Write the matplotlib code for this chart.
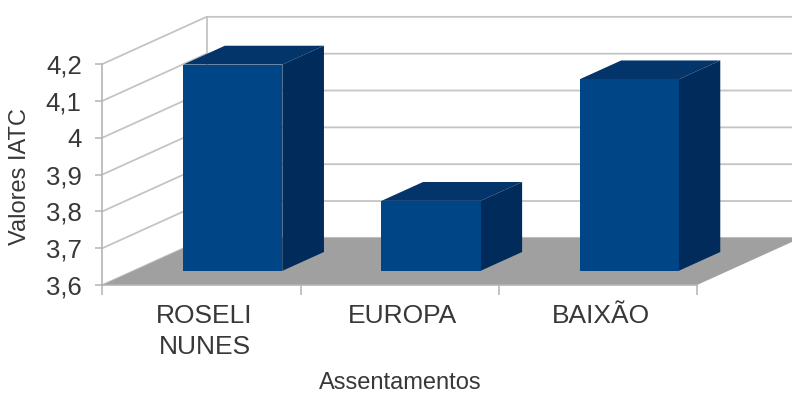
import matplotlib.pyplot as plt

from matplotlib.patches import Polygon
from matplotlib.transforms import ScaledTranslation

plt.rcParams['font.family'] = ['Liberation Sans', 'DejaVu Sans']

categories = ['ROSELI\nNUNES', 'EUROPA', 'BAIXÃO']
iatc_values = [4.16, 3.79, 4.12]
y_ticks = [3.6, 3.7, 3.8, 3.9, 4.0, 4.1, 4.2]
y_tick_labels = ['3,6', '3,7', '3,8', '3,9', '4', '4,1', '4,2']

WIDTH = 792
HEIGHT = 393
Y_MIN = 3.6
Y_MAX = 4.2

# fake 3D: how far the back wall sits from the front plane, in data units
DEPTH_X = 0.525
DEPTH_Y = 0.128
BAR_WIDTH = 0.5
BAR_DEPTH_START = 0.3
BAR_DEPTH_END = 0.7

FRONT = '#004586'
TOP = '#03346a'
SIDE = '#012b5a'
FLOOR = '#a0a0a0'
GRID = '#c4c4c4'
TEXT = '#383838'


def project(x, y, depth):
  return x + depth * DEPTH_X, y + depth * DEPTH_Y


def face(ax, points, color, zorder):
  ax.add_patch(Polygon(points, closed=True, facecolor=color, edgecolor='none', clip_on=False, zorder=zorder))


def draw_walls(ax, x_max):
  for tick in y_ticks:
    xs, ys = zip(project(0, tick, 0), project(0, tick, 1), project(x_max, tick, 1))
    ax.plot(xs, ys, color=GRID, lw=1.3, clip_on=False, zorder=1)

  xs, ys = zip(project(0, Y_MIN, 1), project(0, Y_MAX, 1))
  ax.plot(xs, ys, color=GRID, lw=1.3, clip_on=False, zorder=1)

  floor = [
    project(0, Y_MIN, 0),
    project(x_max, Y_MIN, 0),
    project(x_max, Y_MIN, 1),
    project(0, Y_MIN, 1),
  ]
  face(ax, floor, FLOOR, 2)


def draw_bar(ax, index, value):
  left = index + (1 - BAR_WIDTH) / 2
  right = left + BAR_WIDTH
  d0 = BAR_DEPTH_START
  d1 = BAR_DEPTH_END

  face(ax, [project(left, value, d0), project(right, value, d0), project(right, value, d1), project(left, value, d1)], TOP, 3)
  face(ax, [project(right, Y_MIN, d0), project(right, Y_MIN, d1), project(right, value, d1), project(right, value, d0)], SIDE, 3)
  face(ax, [project(left, Y_MIN, d0), project(right, Y_MIN, d0), project(right, value, d0), project(left, value, d0)], FRONT, 4)


fig = plt.figure(figsize=(WIDTH / 100, HEIGHT / 100), dpi=100)
ax = fig.add_axes([102.5 / WIDTH, (HEIGHT - 285) / HEIGHT, 594.5 / WIDTH, 221 / HEIGHT])
ax.patch.set_visible(False)

ax.set_xlim(0, len(categories))
ax.set_ylim(Y_MIN, Y_MAX)

draw_walls(ax, len(categories))

for i, value in enumerate(iatc_values):
  draw_bar(ax, i, value)

for side in ['top', 'right']:
  ax.spines[side].set_visible(False)
for side in ['left', 'bottom']:
  ax.spines[side].set_color('#b4b4b4')
  ax.spines[side].set_linewidth(1.2)
  ax.spines[side].set_zorder(5)

ax.set_yticks(y_ticks)
ax.set_yticklabels(y_tick_labels, fontsize=18.5, color=TEXT)
ax.tick_params(axis='y', length=5, width=1.1, color='#b4b4b4', pad=10)

# ticks mark the category boundaries, labels sit in between
ax.set_xticks(range(len(categories) + 1))
ax.set_xticklabels([])
ax.set_xticks([i + 0.5 for i in range(len(categories))], minor=True)
ax.set_xticklabels(categories, minor=True, fontsize=19, color=TEXT, linespacing=1.32)
ax.tick_params(axis='x', which='major', length=7, width=1.1, color='#b4b4b4')
ax.tick_params(axis='x', which='minor', length=0, pad=14)

# category labels sit a little right of the front-plane centre
nudge = ScaledTranslation(3 / 100, 0, fig.dpi_scale_trans)
for label in ax.get_xticklabels(minor=True):
  label.set_transform(label.get_transform() + nudge)

fig.text(400 / WIDTH, (HEIGHT - 389) / HEIGHT, 'Assentamentos', fontsize=17, color=TEXT, ha='center', va='baseline')
fig.text(20.5 / WIDTH, (HEIGHT - 177) / HEIGHT, 'Valores IATC', fontsize=17, color=TEXT, ha='center', va='center', rotation=90)

fig.savefig('out.png', dpi=100)
